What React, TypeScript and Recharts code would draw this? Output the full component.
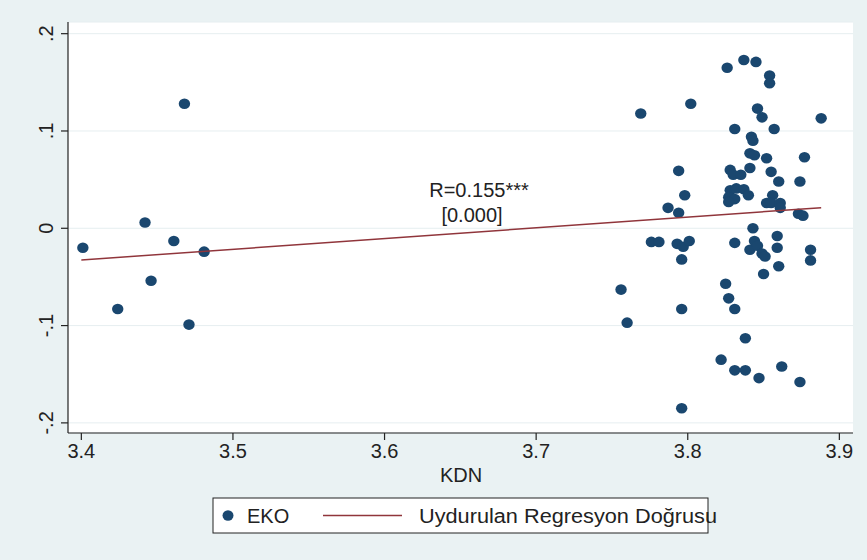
import React from 'react';
import { ScatterChart, Scatter, XAxis, YAxis, CartesianGrid, Legend, ReferenceDot } from 'recharts';

const kdn = [
  3.401, 3.424, 3.442, 3.446, 3.461, 3.468, 3.471, 3.481,
  3.769, 3.802, 3.826, 3.837, 3.845, 3.854, 3.854, 3.846, 3.849, 3.888,
  3.831, 3.857, 3.842, 3.843, 3.841, 3.844, 3.852, 3.877, 3.841, 3.828,
  3.830, 3.835, 3.855, 3.860, 3.874, 3.794, 3.828, 3.832, 3.837, 3.840,
  3.827, 3.831, 3.827, 3.856, 3.852, 3.855, 3.861, 3.861, 3.873, 3.876,
  3.798, 3.787, 3.794, 3.843, 3.859, 3.859, 3.776, 3.781, 3.793, 3.797,
  3.801, 3.796, 3.831, 3.844, 3.841, 3.846, 3.849, 3.851, 3.881, 3.881,
  3.860, 3.850, 3.756, 3.760, 3.825, 3.827, 3.831, 3.796, 3.838, 3.822,
  3.831, 3.838, 3.847, 3.862, 3.874, 3.796,
];

const eko = [
  -0.020, -0.083, 0.006, -0.054, -0.013, 0.128, -0.099, -0.024,
  0.118, 0.128, 0.165, 0.173, 0.171, 0.157, 0.149, 0.123, 0.114, 0.113,
  0.102, 0.102, 0.094, 0.090, 0.077, 0.075, 0.072, 0.073, 0.062, 0.060,
  0.055, 0.055, 0.058, 0.048, 0.048, 0.059, 0.039, 0.041, 0.040, 0.034,
  0.032, 0.030, 0.027, 0.034, 0.026, 0.026, 0.026, 0.021, 0.015, 0.013,
  0.034, 0.021, 0.016, 0.000, -0.008, -0.020, -0.014, -0.014, -0.016, -0.019,
  -0.013, -0.032, -0.015, -0.013, -0.022, -0.018, -0.026, -0.029, -0.022, -0.033,
  -0.039, -0.047, -0.063, -0.097, -0.057, -0.072, -0.083, -0.083, -0.113, -0.135,
  -0.146, -0.146, -0.154, -0.142, -0.158, -0.185,
];

const fitKdn = [3.4, 3.888];
const fitEko = [-0.0326, 0.0212];

const xTicks = [3.4, 3.5, 3.6, 3.7, 3.8, 3.9];
const xTickLabels = ['3.4', '3.5', '3.6', '3.7', '3.8', '3.9'];
const yTicks = [-0.2, -0.1, 0, 0.1, 0.2];
const yTickLabels = ['-.2', '-.1', '0', '.1', '.2'];

const seriesNames = ['EKO', 'Uydurulan Regresyon Doğrusu'];
const xTitle = 'KDN';
const annotationText = ['R=0.155***', '[0.000]'];
const annotationKdn = [3.6623, 3.6577];
const annotationEko = [0.0322, 0.006];

const points = kdn.map((x, i) => ({ x, y: eko[i] }));
const fitPoints = fitKdn.map((x, i) => ({ x, y: fitEko[i] }));

const FONT = '"Liberation Sans", Arial, Helvetica, sans-serif';
const NAVY = '#1a476f';
const MAROON = '#90353b';
const BG = '#eaf2f3';
const AXIS = '#222';
const TEXT = '#222';

const XTick = (props: any) => {
  const { x, y, payload } = props;
  const idx = xTicks.indexOf(payload.value);
  return (
    <text x={x} y={y + 16} textAnchor="middle" fontFamily={FONT} fontSize={20} fill={TEXT}>
      {idx >= 0 ? xTickLabels[idx] : String(payload.value)}
    </text>
  );
};

const YTick = (props: any) => {
  const { x, y, payload } = props;
  const idx = yTicks.indexOf(payload.value);
  return (
    <text
      x={x}
      y={y}
      transform={`rotate(-90, ${x}, ${y})`}
      textAnchor="middle"
      fontFamily={FONT}
      fontSize={20}
      fill={TEXT}
    >
      {idx >= 0 ? yTickLabels[idx] : String(payload.value)}
    </text>
  );
};

const Dot = (props: any) => {
  const { cx, cy } = props;
  if (cx == null || cy == null) return <g />;
  return <ellipse cx={cx} cy={cy} rx={5.7} ry={5.3} fill={NAVY} />;
};

const NoShape = () => <g />;

const LegendBox = (props: any) => {
  const payload = props.payload || [];
  const name0 = payload[0]?.value ?? seriesNames[0];
  const name1 = payload[1]?.value ?? seriesNames[1];
  return (
    <svg width={867} height={560} style={{ position: 'absolute', left: 0, top: 0 }}>
      <rect x={213} y={498} width={495} height={35} fill="#fff" />
      <ellipse cx={228} cy={515.5} rx={5.5} ry={5.2} fill={NAVY} />
      <text x={247} y={522.5} fontFamily={FONT} fontSize={20} fill={TEXT}>{name0}</text>
      <line x1={323} x2={402} y1={515.5} y2={515.5} stroke={MAROON} strokeWidth={1.5} />
      <text x={419} y={522.5} fontFamily={FONT} fontSize={20} fill={TEXT} textLength={298} lengthAdjust="spacingAndGlyphs">
        {name1}
      </text>
      <rect x={213} y={498} width={495} height={35} fill="none" stroke={AXIS} strokeWidth={1} />
    </svg>
  );
};

const Annot = (i: number) => (props: any) => {
  const { cx, cy } = props;
  return (
    <text x={cx} y={cy} textAnchor="middle" fontFamily={FONT} fontSize={20} fill={TEXT}>
      {annotationText[i]}
    </text>
  );
};

export default function App() {
  return (
    <div style={{ position: 'absolute', left: 0, top: 0, width: 867, height: 560, background: BG }}>
      <ScatterChart width={867} height={560} margin={{ top: 22, right: 14, bottom: 97, left: 0 }}>
        <CartesianGrid horizontal vertical={false} fill="#ffffff" stroke="#e6eef0" strokeWidth={1} />
        <XAxis
          type="number"
          dataKey="x"
          domain={[3.3912, 3.909]}
          ticks={xTicks}
          allowDataOverflow
          height={30}
          tickSize={7}
          tickMargin={2}
          axisLine={{ stroke: AXIS, strokeWidth: 1.2 }}
          tickLine={{ stroke: AXIS, strokeWidth: 1.2 }}
          tick={<XTick />}
          interval={0}
          label={{
            content: (p: any) => (
              <text x={461} y={482} textAnchor="middle" fontFamily={FONT} fontSize={20} fill={TEXT}>
                {xTitle}
              </text>
            ),
          }}
        />
        <YAxis
          type="number"
          dataKey="y"
          domain={[-0.2104, 0.212]}
          ticks={yTicks}
          allowDataOverflow
          width={68}
          tickSize={7}
          tickMargin={8}
          axisLine={{ stroke: AXIS, strokeWidth: 1.2 }}
          tickLine={{ stroke: AXIS, strokeWidth: 1.2 }}
          tick={<YTick />}
          interval={0}
        />
        <Scatter
          name={seriesNames[0]}
          data={points}
          fill={NAVY}
          shape={<Dot />}
          legendType="circle"
          isAnimationActive={false}
        />
        <Scatter
          name={seriesNames[1]}
          data={fitPoints}
          fill={MAROON}
          line={{ stroke: MAROON, strokeWidth: 1.5 }}
          shape={<NoShape />}
          legendType="line"
          isAnimationActive={false}
        />
        {annotationText.map((t, i) => (
          <ReferenceDot
            key={t}
            x={annotationKdn[i]}
            y={annotationEko[i]}
            r={0}
            shape={Annot(i)}
          />
        ))}
        <Legend
          layout="horizontal"
          verticalAlign="middle"
          align="center"
          content={<LegendBox />}
          wrapperStyle={{ left: 0, top: 0, width: 867, height: 560, pointerEvents: 'none' }}
        />
      </ScatterChart>
    </div>
  );
}
